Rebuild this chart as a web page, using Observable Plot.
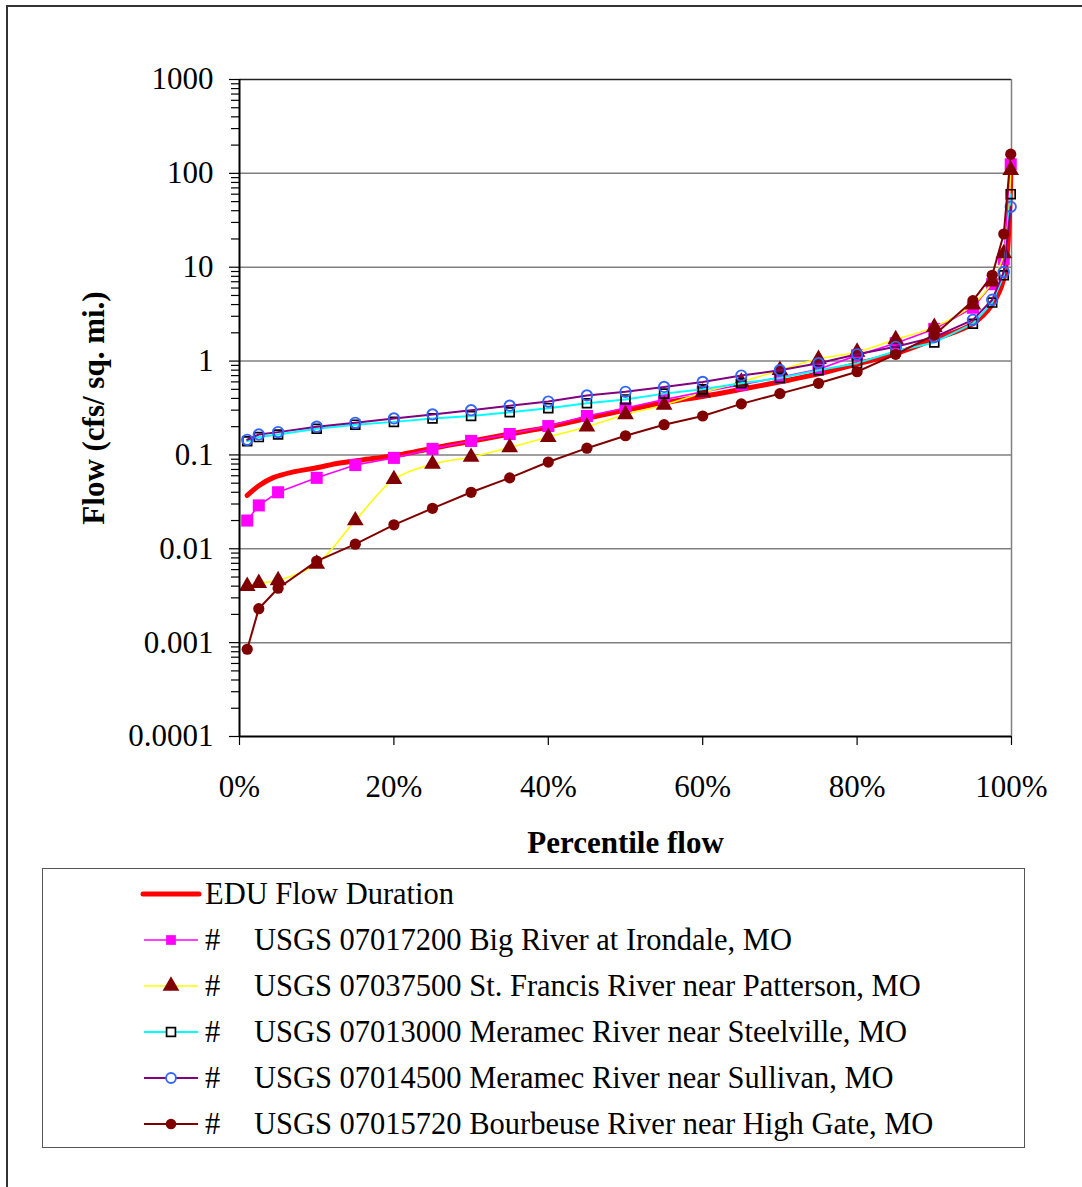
<!DOCTYPE html>
<html>
<head>
<meta charset="utf-8">
<script src="https://cdn.jsdelivr.net/npm/d3@7"></script>
<script src="https://cdn.jsdelivr.net/npm/@observablehq/plot@0.6"></script>
<style>
  html, body { margin: 0; padding: 0; background: #fff; overflow: hidden; }
  #wrap { position: relative; width: 1082px; height: 1187px; font-family: "Liberation Serif", "Times New Roman", serif; }
  #outer { position: absolute; left: 6px; top: 5px; width: 1100px; height: 1200px; border-left: 2px solid #333; border-top: 2px solid #333; box-sizing: border-box; }
  #chart { position: absolute; left: 0; top: 0; }
  #legend { position: absolute; left: 42px; top: 868px; width: 983px; height: 280px; border: 1.5px solid #555; box-sizing: border-box; background: #fff; }
  .row { position: absolute; left: 0; height: 40px; width: 100%; font-size: 30.5px; line-height: 40px; color: #000; }
  .row svg { position: absolute; left: 97px; top: 10px; }
  .row .hash { position: absolute; left: 162px; }
  .row .name { position: absolute; left: 211px; white-space: nowrap; }
  .row .edu { position: absolute; left: 162px; white-space: nowrap; }
</style>
</head>
<body>
<div id="wrap">
  <div id="outer"></div>
  <div id="chart"></div>
  <div id="legend"></div>
</div>
<script>
// ---------- data ----------
const pct = [1, 2.5, 5, 10, 15, 20, 25, 30, 35, 40, 45, 50, 55, 60, 65, 70, 75, 80, 85, 90, 95, 97.5, 99, 99.9];

const bigRiver   = [0.020, 0.029, 0.040, 0.057, 0.078, 0.093, 0.116, 0.141, 0.167, 0.203, 0.26, 0.316, 0.39, 0.47, 0.56, 0.67, 0.82, 1.15, 1.55, 2.2, 3.7, 6.6, 12.2, 125];
const stFrancis  = [0.0040, 0.0043, 0.0046, 0.0069, 0.020, 0.055, 0.080, 0.095, 0.12, 0.155, 0.20, 0.27, 0.34, 0.46, 0.60, 0.80, 1.05, 1.25, 1.7, 2.3, 4.0, 7.0, 14, 108];
const steelville = [0.14, 0.155, 0.165, 0.19, 0.21, 0.225, 0.245, 0.26, 0.285, 0.315, 0.355, 0.39, 0.45, 0.50, 0.58, 0.66, 0.80, 0.95, 1.27, 1.58, 2.5, 4.2, 8.2, 60];
const sullivan   = [0.145, 0.165, 0.175, 0.20, 0.22, 0.245, 0.27, 0.30, 0.335, 0.37, 0.43, 0.47, 0.53, 0.60, 0.70, 0.80, 0.95, 1.18, 1.42, 1.8, 2.75, 4.5, 8.9, 44];
const bourbeuse  = [0.00085, 0.0023, 0.0038, 0.0074, 0.0112, 0.018, 0.027, 0.040, 0.057, 0.084, 0.118, 0.16, 0.21, 0.26, 0.35, 0.45, 0.58, 0.77, 1.18, 1.9, 4.4, 8.2, 22.6, 160];

const eduPct  = [1, 2.5, 4.3, 7, 10, 13, 17.5, 21, 25, 30, 35, 40, 45, 50, 55, 60, 65, 70, 75, 80, 85, 90, 95, 97.5, 99, 99.9];
const eduFlow = [0.037, 0.047, 0.057, 0.066, 0.073, 0.082, 0.092, 0.101, 0.118, 0.14, 0.167, 0.198, 0.245, 0.30, 0.36, 0.42, 0.50, 0.60, 0.73, 0.93, 1.2, 1.7, 2.5, 4.0, 7.5, 100];

const seriesNames = [
  "USGS 07017200 Big River at Irondale, MO",
  "USGS 07037500 St. Francis River near Patterson, MO",
  "USGS 07013000 Meramec River near Steelville, MO",
  "USGS 07014500 Meramec River near Sullivan, MO",
  "USGS 07015720 Bourbeuse River near High Gate, MO"
];
const eduName = "EDU Flow Duration";

const yTicks  = [0.0001, 0.001, 0.01, 0.1, 1, 10, 100, 1000];
const yLabels = ["0.0001", "0.001", "0.01", "0.1", "1", "10", "100", "1000"];
const xTicks  = [0, 20, 40, 60, 80, 100];
const xLabels = ["0%", "20%", "40%", "60%", "80%", "100%"];
const xTitle = "Percentile flow";
const yTitle = "Flow (cfs/ sq. mi.)";

// ---------- styles per series ----------
const styles = [
  {line: "#FF00FF", width: 1.6, curve: "linear", symbol: "square", r: 6.8, fill: "#FF00FF", stroke: "none", sw: 0},
  {line: "#FFFF00", width: 1.6, curve: "catmull-rom", symbol: "triangle", r: 6.2, fill: "#800000", stroke: "none", sw: 0},
  {line: "#00FFFF", width: 2, curve: "linear", symbol: "square", r: 5.0, fill: "none", stroke: "#000", sw: 1.7},
  {line: "#800080", width: 2, curve: "linear", symbol: "circle", r: 5.2, fill: "none", stroke: "#3366FF", sw: 1.9},
  {line: "#800000", width: 2, curve: "linear", symbol: "circle", r: 5.6, fill: "#800000", stroke: "none", sw: 0}
];
const valuesList = [bigRiver, stFrancis, steelville, sullivan, bourbeuse];

const rows = seriesNames.map((name, s) => pct.map((p, i) => ({name, pct: p, flow: valuesList[s][i]})));
const edu = eduPct.map((p, i) => ({pct: p, flow: eduFlow[i]}));

const minor = [];
for (let k = 0; k < yTicks.length - 1; k++) for (let m = 2; m <= 9; m++) minor.push(yTicks[k] * m);

const yFmt = new Map(yTicks.map((v, i) => [v, yLabels[i]]));
const xFmt = new Map(xTicks.map((v, i) => [v, xLabels[i]]));

const seriesMarks = [];
seriesMarks.push(Plot.line(edu, {x: "pct", y: "flow", stroke: "#FF0000", strokeWidth: 5, curve: "catmull-rom"}));
rows.forEach((data, s) => {
  const st = styles[s];
  seriesMarks.push(Plot.line(data, {x: "pct", y: "flow", stroke: st.line, strokeWidth: st.width, curve: st.curve}));
  seriesMarks.push(Plot.dot(data, {x: "pct", y: "flow", symbol: st.symbol, r: st.r, fill: st.fill, stroke: st.stroke, strokeWidth: st.sw}));
});

const chart = Plot.plot({
  width: 1082,
  height: 860,
  marginLeft: 239,
  marginRight: 71,
  marginTop: 79,
  marginBottom: 124,
  style: {fontFamily: "'Liberation Serif', 'Times New Roman', serif", fontSize: "31px", background: "transparent", color: "#000", overflow: "visible"},
  x: {domain: [0, 100]},
  y: {type: "log", domain: [0.0001, 1000]},
  marks: [
    Plot.ruleY(yTicks.slice(1, -1), {stroke: "#808080", strokeWidth: 1.5}),
    Plot.ruleY([1000], {stroke: "#222", strokeWidth: 1.5}),
    Plot.ruleX([100], {stroke: "#808080", strokeWidth: 1.5}),
    Plot.axisY(minor, {tickSize: 8, tickFormat: () => "", label: null, strokeWidth: 1.2}),
    Plot.axisY(yTicks, {tickSize: 10, tickPadding: 16, tickFormat: d => yFmt.get(d), label: yTitle, labelAnchor: "center", labelOffset: 158, labelArrow: "none", strokeWidth: 1.2}),
    Plot.axisX(xTicks, {tickSize: 9, tickPadding: 29, tickFormat: d => xFmt.get(d), label: xTitle, labelAnchor: "center", labelOffset: 116, labelArrow: "none", strokeWidth: 1.2}),
    ...seriesMarks,
    Plot.ruleX([0], {stroke: "#000", strokeWidth: 2}),
    Plot.ruleY([0.0001], {stroke: "#000", strokeWidth: 2})
  ]
});
document.getElementById("chart").appendChild(chart);
d3.select(chart).selectAll('g[aria-label$="axis label"]').attr("font-weight", "bold");

// ---------- legend ----------
const legend = document.getElementById("legend");
const rowTop = (i) => 5 + i * 46;
function swatch(st, isEdu) {
  const ns = "http://www.w3.org/2000/svg";
  const svg = document.createElementNS(ns, "svg");
  svg.setAttribute("width", 62); svg.setAttribute("height", 20);
  const line = document.createElementNS(ns, "line");
  line.setAttribute("x1", isEdu ? 3 : 4); line.setAttribute("x2", isEdu ? 59 : 58);
  line.setAttribute("y1", 10); line.setAttribute("y2", 10);
  line.setAttribute("stroke", isEdu ? "#FF0000" : st.line);
  line.setAttribute("stroke-width", isEdu ? 5 : st.width);
  line.setAttribute("stroke-linecap", isEdu ? "round" : "butt");
  svg.appendChild(line);
  if (!isEdu) {
    const sym = d3.symbol(st.symbol === "square" ? d3.symbolSquare : st.symbol === "triangle" ? d3.symbolTriangle : d3.symbolCircle, Math.PI * st.r * st.r * (st.symbol === "square" && st.fill !== "none" ? 0.65 : 1) * (st.symbol === "triangle" ? 1.0 : 1) * (st.symbol === "circle" ? 0.9 : 1));
    const p = document.createElementNS(ns, "path");
    p.setAttribute("d", sym());
    p.setAttribute("transform", "translate(31,10)");
    p.setAttribute("fill", st.fill === "none" ? "#fff" : st.fill);
    p.setAttribute("stroke", st.stroke);
    p.setAttribute("stroke-width", st.sw);
    svg.appendChild(p);
  }
  return svg;
}
{
  const r = document.createElement("div"); r.className = "row"; r.style.top = rowTop(0) + "px";
  r.appendChild(swatch(null, true));
  const t = document.createElement("span"); t.className = "edu"; t.textContent = eduName; r.appendChild(t);
  legend.appendChild(r);
}
seriesNames.forEach((name, s) => {
  const r = document.createElement("div"); r.className = "row"; r.style.top = rowTop(s + 1) + "px";
  r.appendChild(swatch(styles[s], false));
  const h = document.createElement("span"); h.className = "hash"; h.textContent = "#"; r.appendChild(h);
  const t = document.createElement("span"); t.className = "name"; t.textContent = name; r.appendChild(t);
  legend.appendChild(r);
});
</script>
</body>
</html>
